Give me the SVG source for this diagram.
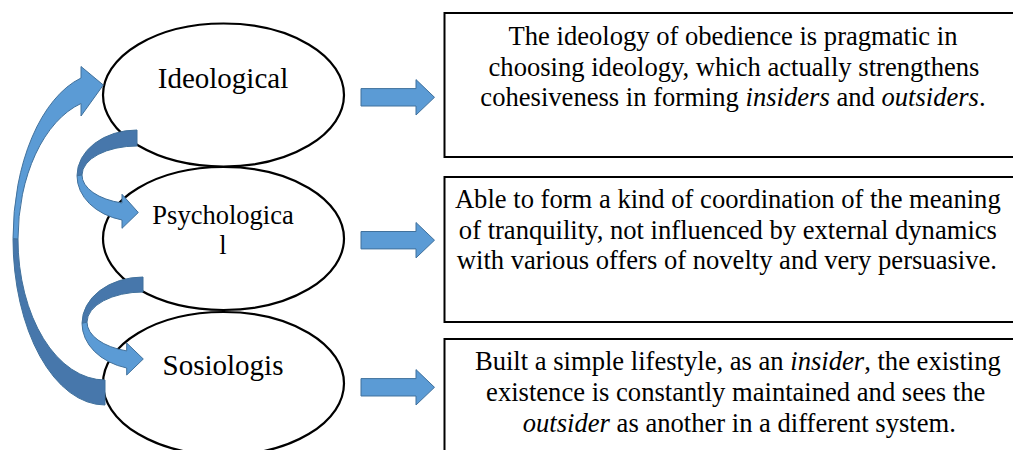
<svg xmlns="http://www.w3.org/2000/svg" xmlns:xlink="http://www.w3.org/1999/xlink" width="1013" height="450" viewBox="0 0 1013 450">
  <style>
    .oval { fill: #ffffff; stroke: #000000; stroke-width: 2.2; }
    .card { fill: #ffffff; stroke: #000000; stroke-width: 2; }
    .lbl { font-family: "Liberation Serif", "Times New Roman", serif; fill: #000000; text-anchor: middle; }
    .big { font-size: 29px; }
    .mid { font-size: 26.5px; }
    .txt { font-size: 26.6px; }
    .face { fill: #5B9BD5; stroke: #41719C; stroke-width: 1; }
    .back { fill: #4777AB; stroke: #41719C; stroke-width: 1; }
    .em { font-style: italic; }
  </style>
  <defs>
    <!-- straight block arrow, origin at the left middle of the shaft -->
    <path id="blockArrow" class="face" d="M0,-8.7 H55 V-17.7 L73.5,0 L55,17.7 V8.7 H0 Z"/>
  </defs>

  <rect x="0" y="0" width="1013" height="450" fill="#ffffff"/>

  <!-- description boxes -->
  <g id="box-ideological">
    <rect class="card" x="444.5" y="13" width="575" height="144"/>
    <text class="lbl txt" x="733" y="44.6">The ideology of obedience is pragmatic in</text>
    <text class="lbl txt" x="734" y="75.5">choosing ideology, which actually strengthens</text>
    <text class="lbl txt" x="733" y="106">cohesiveness in forming <tspan class="em">insiders</tspan> and <tspan class="em">outsiders</tspan>.</text>
  </g>
  <g id="box-psychological">
    <rect class="card" x="444.5" y="177" width="575" height="145"/>
    <text class="lbl txt" x="727.8" y="208.4">Able to form a kind of coordination of the meaning</text>
    <text class="lbl txt" x="727.9" y="238.7">of tranquility, not influenced by external dynamics</text>
    <text class="lbl txt" x="726.9" y="268.7">with various offers of novelty and very persuasive.</text>
  </g>
  <g id="box-sosiologis">
    <rect class="card" x="444.5" y="339" width="575" height="140"/>
    <text class="lbl txt" x="737.9" y="370.2">Built a simple lifestyle, as an <tspan class="em">insider</tspan>, the existing</text>
    <text class="lbl txt" x="735.7" y="401">existence is constantly maintained and sees the</text>
    <text class="lbl txt" x="739.3" y="431.6"><tspan class="em">outsider</tspan> as another in a different system.</text>
  </g>

  <!-- aspect ovals -->
  <g id="node-ideological">
    <ellipse class="oval" cx="223.5" cy="95" rx="120.5" ry="71.5"/>
    <text class="lbl big" x="223" y="88">Ideological</text>
  </g>
  <g id="node-psychological">
    <ellipse class="oval" cx="223.5" cy="238.5" rx="120.5" ry="71.5"/>
    <text class="lbl mid" x="223" y="224">Psychologica</text>
    <text class="lbl mid" x="223" y="254">l</text>
  </g>
  <g id="node-sosiologis">
    <ellipse class="oval" cx="223.5" cy="383.5" rx="120.5" ry="71.5"/>
    <text class="lbl big" x="223" y="375">Sosiologis</text>
  </g>

  <!-- connectors -->
  <g id="connectors">
    <!-- oval to box arrows -->
    <use xlink:href="#blockArrow" x="361" y="97.3"/>
    <use xlink:href="#blockArrow" x="361" y="240.2"/>
    <use xlink:href="#blockArrow" x="361" y="387.3"/>

    <!-- large curved arrow: Sosiologis back up to Ideological -->
    <path class="back" d="M13,238.6 A92,166.4 0 0 0 105,405 L105,380 A87,141 0 0 1 18,239 Z"/>
    <path class="face" d="M81,78 A92,166.4 0 0 0 13,238.6 L18,239 A87,141 0 0 1 81,103.5 L81,116 L103.3,85 L81,66.5 Z"/>

    <!-- curved arrow: Ideological to Psychological -->
    <path class="back" d="M137,130 A60,45.7 0 0 0 77,175.7 L82,175 A55,29 0 0 1 137,146 Z"/>
    <path class="face" d="M77,175.7 A60,45.7 0 0 0 122,220 L122,228.3 L138.3,212.5 L122,194.3 L122,203 A55,29 0 0 1 82,175 Z"/>

    <!-- curved arrow: Psychological to Sosiologis -->
    <path class="back" d="M143,277 A61,46.3 0 0 0 82,323.3 L87,322.1 A56,30.1 0 0 1 143,292 Z"/>
    <path class="face" d="M82,323.3 A61,46.3 0 0 0 126.7,368 L126.7,375 L143.3,359 L126.7,343 L126.7,350.9 A56,30.1 0 0 1 87,322.1 Z"/>
  </g>
</svg>
